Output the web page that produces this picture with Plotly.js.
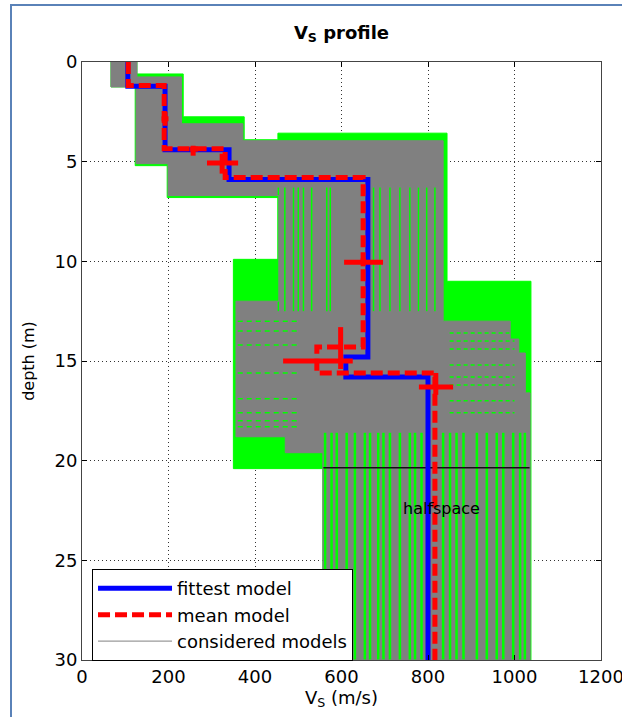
<!DOCTYPE html>
<html><head><meta charset="utf-8">
<script src="https://cdn.plot.ly/plotly-3.0.1.min.js"></script>
<style>html,body{margin:0;padding:0;background:#fff}</style>
</head><body>
<div id="chart" style="width:622px;height:717px"></div>
<script>
// ---- data ----
const maxDepth = 30;
// fittest model (layer Vs and layer top depth)
const fitLayerVs  = [106, 192, 340, 661, 610, 800];
const fitLayerTop = [0, 1.22, 4.4, 5.9, 14.8, 15.8];
// mean model
const meanLayerVs  = [107, 190, 331, 650, 543, 816];
const meanLayerTop = [0, 1.18, 4.35, 5.8, 14.3, 15.6];
// uncertainty crosses on the mean model
const crossVs         = [192, 257, 324, 650, 598, 818];
const crossDepth      = [2.85, 4.37, 5.07, 10.05, 15.0, 16.3];
const crossVsMinus    = [8, 7, 35, 44, 133, 39];
const crossVsPlus     = [8, 11, 37, 46, 28, 40];
const crossDepthMinus = [0.35, 0.17, 0.47, 0.2, 1.7, 0.7];
const crossDepthPlus  = [0.35, 0.33, 0.53, 0.2, 0.4, 0.4];
// outline of all models (green)
const envVs    = [67, 127, 127, 234, 234, 375, 375, 453, 453, 844, 844, 1038, 1038, 557, 557, 350, 350, 453, 453, 197, 197, 123, 123, 67, 67];
const envDepth = [0, 0, 0.6, 0.6, 2.75, 2.75, 3.9, 3.9, 3.57, 3.57, 11.0, 11.0, 30, 30, 20.4, 20.4, 9.9, 9.9, 6.8, 6.8, 5.2, 5.2, 1.25, 1.25, 0];
// outline of considered models (grey)
const grayVs    = [67, 127, 127, 230, 230, 372, 372, 835, 835, 990, 990, 1010, 1010, 1025, 1025, 1036, 1036, 557, 557, 470, 470, 356, 356, 455, 455, 199, 199, 125, 125, 67, 67];
const grayDepth = [0, 0, 0.75, 0.75, 3.1, 3.1, 3.95, 3.95, 13.0, 13.0, 13.9, 13.9, 14.6, 14.6, 16.6, 16.6, 30, 30, 19.6, 19.6, 18.8, 18.8, 12.0, 12.0, 6.7, 6.7, 5.1, 5.1, 1.25, 1.25, 0];
// green model lines visible through the grey
const streakVsLayer4 = [454, 469, 489, 500, 512, 531, 566, 574, 674, 689, 712, 735, 758, 778, 797, 816];
const streakLayer4Depth = [6.3, 12.5];
const streakVsHalf = [562, 577, 589, 612, 631, 654, 666, 685, 697, 712, 735, 758, 770, 785, 835, 851, 866, 882, 913, 936, 959, 974, 997, 1013, 1024];
const streakHalfDepth = [18.6, 30];
// short green layer-boundary traces inside the grey of layer 5
const dashDepthLeft  = [13.0, 13.5, 14.2, 15.6, 16.9, 17.6, 18.0, 18.3];
const dashVsLeft     = [360, 500];
const dashDepthRight = [13.6, 14.0, 14.4, 15.2, 15.8, 16.2, 17.0, 17.6];
const dashVsRight    = [850, 1000];
const halfspaceTop = 20.35;
const halfspaceVsRange = [557, 1036];
const xTicks = [0, 200, 400, 600, 800, 1000, 1200];
const yTicks = [0, 5, 10, 15, 20, 25, 30];

// ---- helpers ----
function steps(vs, tops, bottom) {
  const x = [], y = [];
  for (let i = 0; i < vs.length; i++) {
    x.push(vs[i], vs[i]);
    y.push(tops[i], i < vs.length - 1 ? tops[i + 1] : bottom);
  }
  return {x, y};
}
function verticals(vals, range) {
  const x = [], y = [];
  vals.forEach(v => { x.push(v, v, null); y.push(range[0], range[1], null); });
  return {x, y};
}
function horizontals(depths, range) {
  const x = [], y = [];
  depths.forEach(d => { x.push(range[0], range[1], null); y.push(d, d, null); });
  return {x, y};
}
const fit = steps(fitLayerVs, fitLayerTop, maxDepth);
const mean = steps(meanLayerVs, meanLayerTop, maxDepth);
const s4 = verticals(streakVsLayer4, streakLayer4Depth);
const sh = verticals(streakVsHalf, streakHalfDepth);
const dl = horizontals(dashDepthLeft, dashVsLeft);
const dr = horizontals(dashDepthRight, dashVsRight);

const traces = [
  {x: envVs, y: envDepth, mode: 'lines', fill: 'toself', fillcolor: '#00ff00', line: {color: '#00ff00', width: 1}, showlegend: false, hoverinfo: 'skip'},
  {x: grayVs, y: grayDepth, mode: 'lines', fill: 'toself', fillcolor: '#808080', line: {color: '#808080', width: 0}, showlegend: false, hoverinfo: 'skip'},
  {x: s4.x, y: s4.y, mode: 'lines', line: {color: '#00ff00', width: 1.5}, showlegend: false, hoverinfo: 'skip'},
  {x: sh.x, y: sh.y, mode: 'lines', line: {color: '#00ff00', width: 2.5}, showlegend: false, hoverinfo: 'skip'},
  {x: dl.x, y: dl.y, mode: 'lines', line: {color: '#00ff00', width: 1.5, dash: '5px,4px'}, showlegend: false, hoverinfo: 'skip'},
  {x: dr.x, y: dr.y, mode: 'lines', line: {color: '#00ff00', width: 1.5, dash: '4px,3px'}, showlegend: false, hoverinfo: 'skip'},
  {x: halfspaceVsRange, y: [halfspaceTop, halfspaceTop], mode: 'lines', line: {color: '#111', width: 1.5}, showlegend: false, hoverinfo: 'skip'},
  {x: grayVs, y: grayDepth, mode: 'lines', name: 'considered models', line: {color: '#808080', width: 1}, legendrank: 3},
  {x: fit.x, y: fit.y, mode: 'lines', name: 'fittest model', line: {color: '#0000ff', width: 5}, legendrank: 1},
  {x: mean.x, y: mean.y, mode: 'lines', name: 'mean model', line: {color: '#ff0000', width: 5, dash: '12px,5px'}, legendrank: 2},
  {x: crossVs, y: crossDepth, mode: 'markers', marker: {size: 1, color: 'rgba(0,0,0,0)'}, showlegend: false, hoverinfo: 'skip',
   error_x: {type: 'data', symmetric: false, array: crossVsPlus, arrayminus: crossVsMinus, color: '#ff0000', thickness: 5, width: 0},
   error_y: {type: 'data', symmetric: false, array: crossDepthPlus, arrayminus: crossDepthMinus, color: '#ff0000', thickness: 5, width: 0}}
];

const axisCommon = {
  ticks: 'inside', ticklen: 5, tickcolor: '#000', mirror: 'ticks', showline: true, linecolor: '#444', linewidth: 1,
  showgrid: true, gridcolor: '#333', griddash: '1px,3px', gridwidth: 1, zeroline: false,
  ticklabeloverflow: 'allow', automargin: false,
  tickfont: {family: 'DejaVu Sans', size: 18, color: '#000'}
};

const layout = {
  width: 622, height: 717,
  margin: {l: 82, r: 21, t: 62, b: 57},
  paper_bgcolor: '#fff', plot_bgcolor: '#fff',
  font: {family: 'DejaVu Sans', size: 18, color: '#000'},
  title: {text: '<b>V<sub>S</sub> profile</b>', font: {family: 'DejaVu Sans', size: 18, color: '#000'},
          xref: 'paper', x: 0.5, xanchor: 'center', yref: 'container', y: 0.955, yanchor: 'middle'},
  xaxis: Object.assign({}, axisCommon, {range: [0, 1200], tickvals: xTicks,
    title: {text: 'V<sub>S</sub> (m/s)', font: {family: 'DejaVu Sans', size: 18}, standoff: 5}}),
  yaxis: Object.assign({}, axisCommon, {range: [30, 0], tickvals: yTicks,
    title: {text: 'depth (m)', font: {family: 'DejaVu Sans', size: 16}, standoff: 15}}),
  legend: {x: 0.0193, y: 0.152, xanchor: 'left', yanchor: 'top', bgcolor: '#fff', bordercolor: '#000', borderwidth: 1,
           font: {family: 'DejaVu Sans', size: 18, color: '#000'}, itemwidth: 74, traceorder: 'normal', tracegroupgap: 0},
  annotations: [{x: 832, y: 22.4, xref: 'x', yref: 'y', text: 'halfspace', showarrow: false,
                 font: {family: 'DejaVu Sans', size: 16, color: '#000'}}],
  shapes: [{type: 'rect', xref: 'paper', yref: 'paper', x0: -0.1368, x1: 1.4, y0: -0.3, y1: 1.0953,
            line: {color: '#5a82b8', width: 2}, fillcolor: 'rgba(0,0,0,0)'}],
  showlegend: true
};

Plotly.newPlot('chart', traces, layout, {displayModeBar: false, staticPlot: true});
</script>
</body></html>
